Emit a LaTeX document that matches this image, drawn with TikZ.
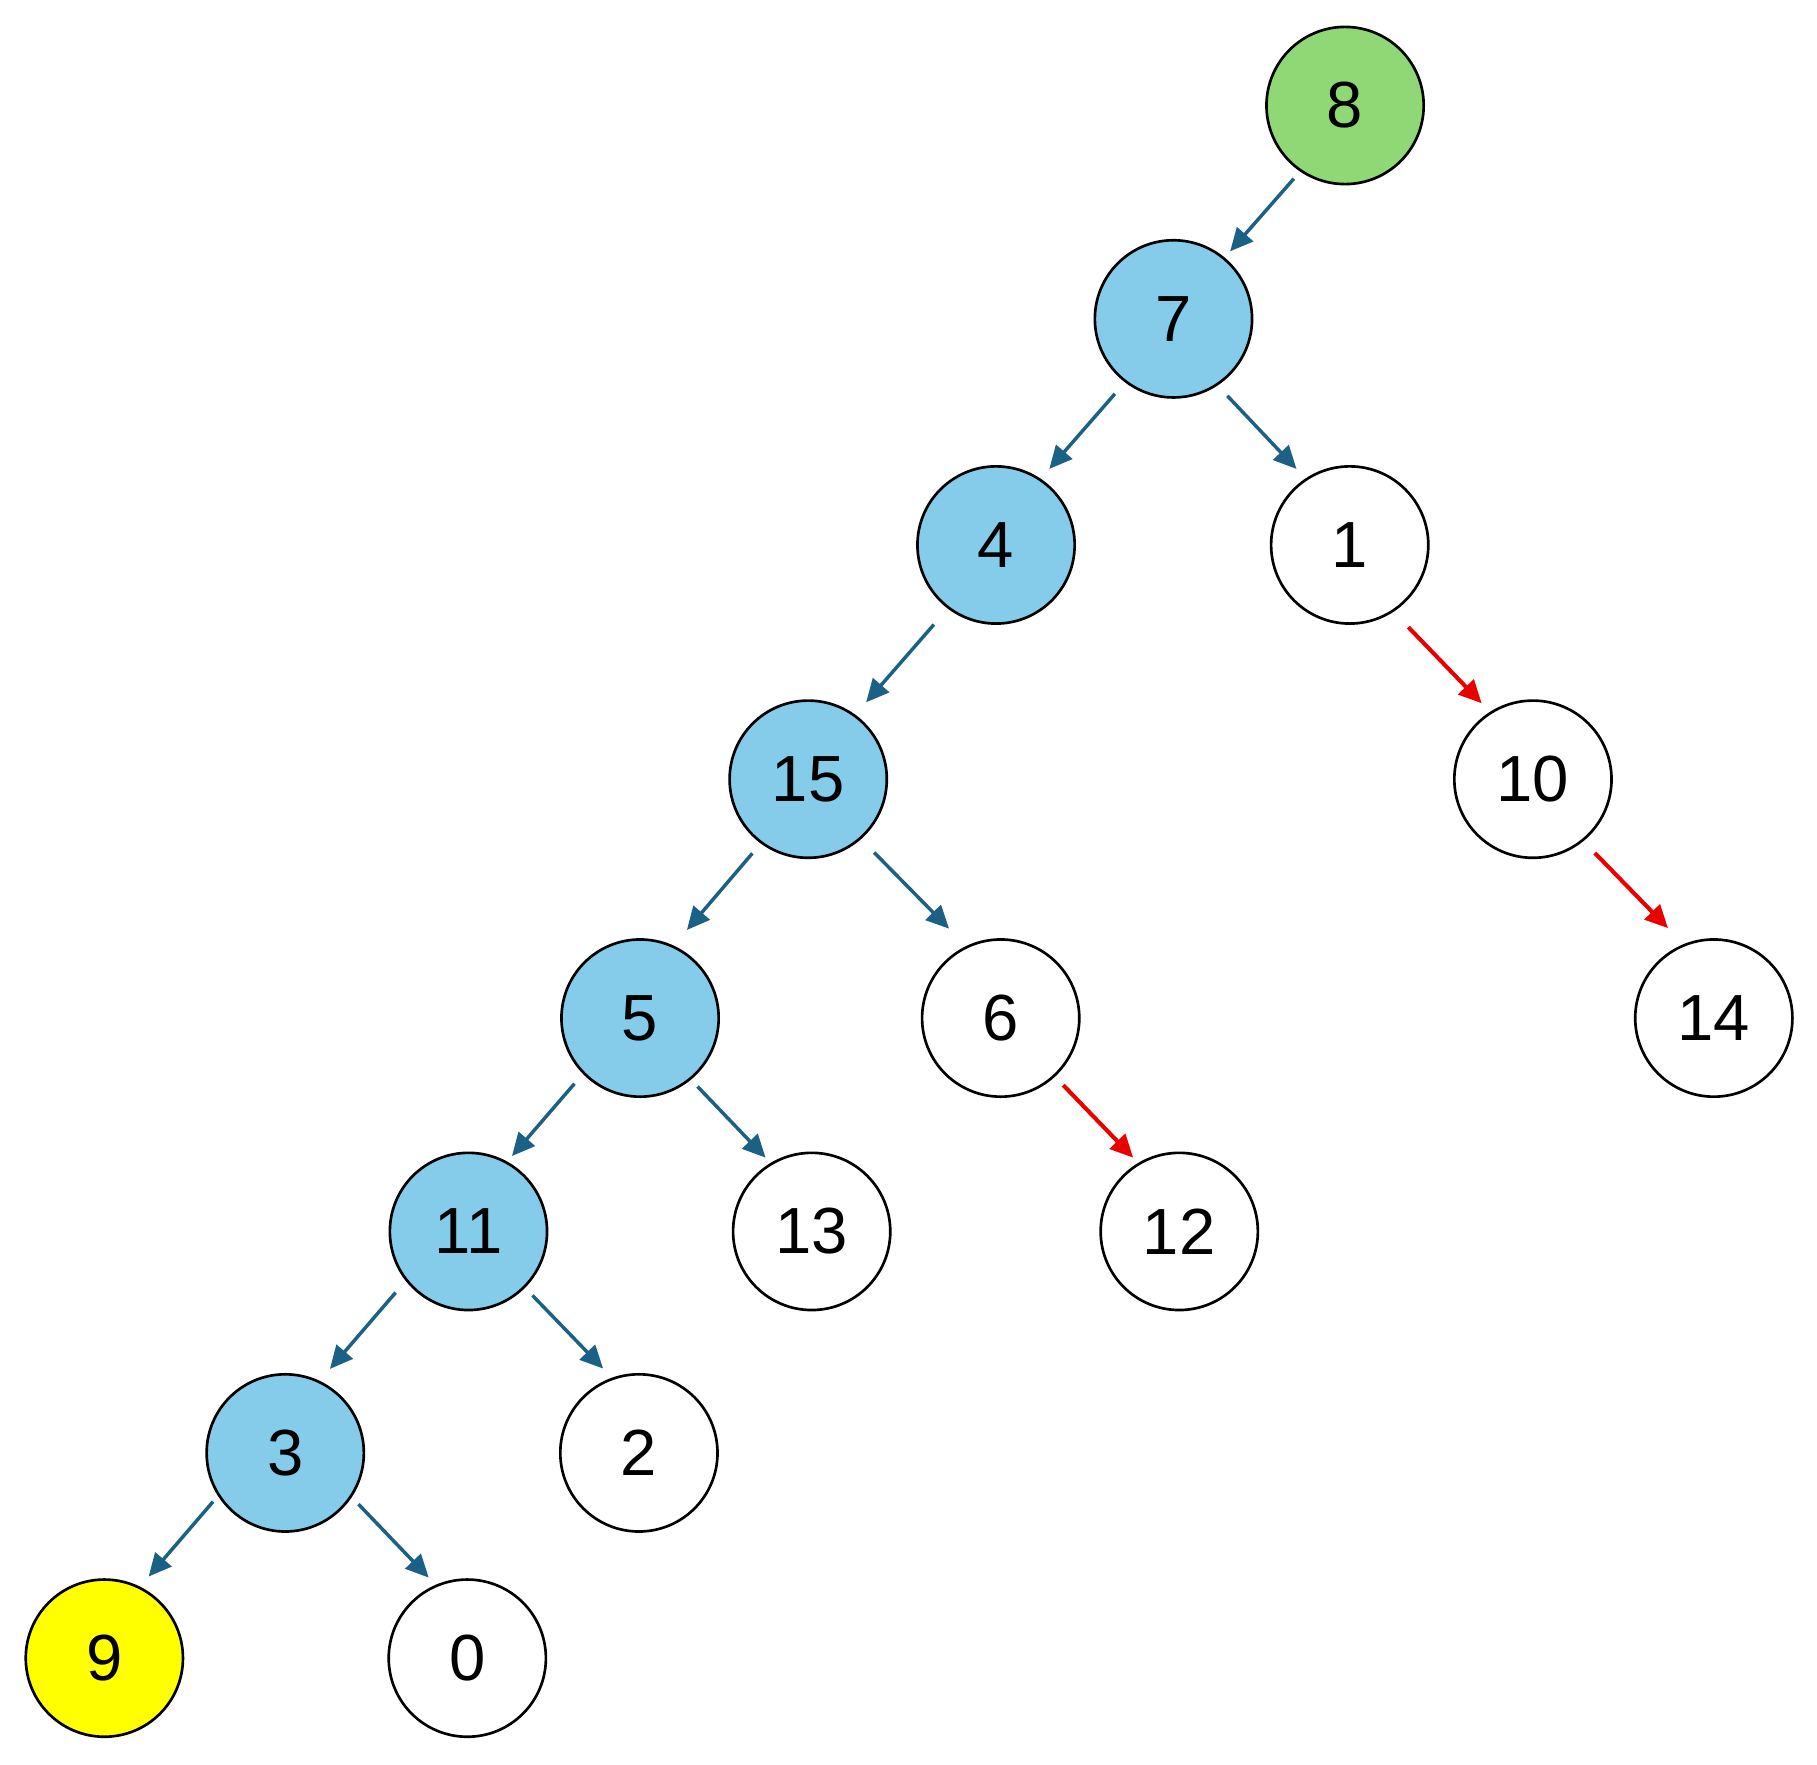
\documentclass[tikz,border=0pt]{standalone}
\usepackage{fontspec}
\setmainfont{Liberation Sans}
\usetikzlibrary{arrows.meta,calc}
\definecolor{gfill}{RGB}{143,216,117}
\definecolor{bfill}{RGB}{133,203,234}
\definecolor{yfill}{RGB}{255,255,0}
\definecolor{edgeblue}{RGB}{27,96,133}
\definecolor{edgered}{RGB}{235,0,0}
\begin{document}
\begin{tikzpicture}[x=0.01cm,y=-0.01cm,
  vtx/.style={circle,draw=black,line width=0.65pt,minimum size=1.355cm,inner sep=0pt,font=\fontsize{16}{19}\selectfont},
  green/.style={vtx,fill=gfill},
  blue/.style={vtx,fill=bfill},
  yel/.style={vtx,fill=yfill},
  wht/.style={vtx,fill=white},
  edge/.style={draw=edgeblue,line width=0.85pt,-{Triangle[length=5.6pt,width=5.2pt]}},
  redge/.style={draw=edgered,line width=1pt,-{Triangle[length=5.6pt,width=5.2pt]}}]
\useasboundingbox (0,0) rectangle (1567,1522);
\node[green] (n8) at (1160,91) {8};
\node[blue] (n7) at (1012,275) {7};
\node[blue] (n4) at (859,470) {4};
\node[wht] (n1) at (1164,470) {1};
\node[blue] (n15) at (697,672) {15};
\node[wht] (n10) at (1322,672) {10};
\node[blue] (n5) at (552,878) {5};
\node[wht] (n6) at (863,878) {6};
\node[wht] (n14) at (1478,878) {14};
\node[blue] (n11) at (404,1062) {11};
\node[wht] (n13) at (700,1062) {13};
\node[wht] (n12) at (1017,1062) {12};
\node[blue] (n3) at (246,1253) {3};
\node[wht] (n2) at (551,1253) {2};
\node[yel] (n9) at (90,1430) {9};
\node[wht] (n0) at (403,1430) {0};
\draw[edge] ($(n8)+(-125:0.77cm)$) -- ($(n7)+(50:0.76cm)$);
\draw[edge] ($(n7)+(-128:0.82cm)$) -- ($(n4)+(55:0.80cm)$);
\draw[edge] ($(n7)+(-55:0.81cm)$) -- ($(n1)+(125:0.80cm)$);
\draw[edge] ($(n4)+(-128:0.87cm)$) -- ($(n15)+(53:0.83cm)$);
\draw[edge] ($(n15)+(-127:0.80cm)$) -- ($(n5)+(62:0.86cm)$);
\draw[edge] ($(n15)+(-48:0.85cm)$) -- ($(n6)+(120:0.89cm)$);
\draw[edge] ($(n5)+(-135:0.80cm)$) -- ($(n11)+(60:0.75cm)$);
\draw[edge] ($(n5)+(-50:0.77cm)$) -- ($(n13)+(122:0.75cm)$);
\draw[edge] ($(n11)+(-140:0.82cm)$) -- ($(n3)+(62:0.82cm)$);
\draw[edge] ($(n11)+(-45:0.78cm)$) -- ($(n2)+(113:0.79cm)$);
\draw[edge] ($(n3)+(-146:0.75cm)$) -- ($(n9)+(61.5:0.80cm)$);
\draw[edge] ($(n3)+(-35:0.77cm)$) -- ($(n0)+(115.6:0.77cm)$);
\draw[redge] ($(n1)+(-54.5:0.87cm)$) -- ($(n10)+(124:0.79cm)$);
\draw[redge] ($(n10)+(-50:0.83cm)$) -- ($(n14)+(117:0.87cm)$);
\draw[redge] ($(n6)+(-47:0.79cm)$) -- ($(n12)+(122:0.75cm)$);
\end{tikzpicture}
\end{document}
